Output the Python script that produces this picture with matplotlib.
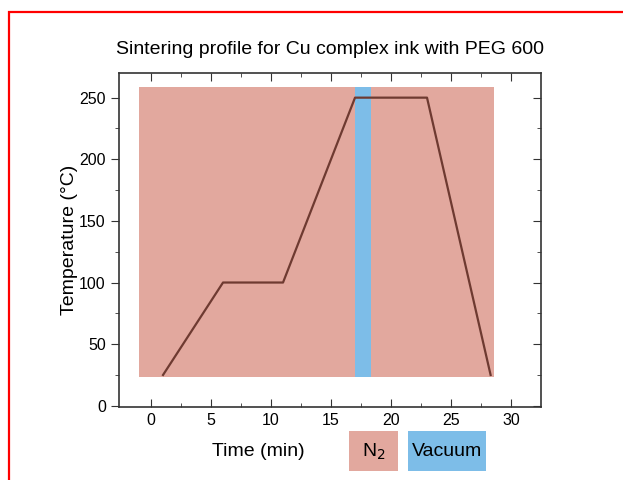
import matplotlib.pyplot as plt
from matplotlib.patches import Rectangle

plt.rcParams['font.family'] = ['Liberation Sans', 'DejaVu Sans']

# Sintering profile: time (min) vs temperature (°C)
time_min = [1, 6, 11, 17, 23, 28.3]
temp_c = [25, 100, 100, 250, 250, 25]

# Atmosphere regions (x start, x end, y bottom, y top)
n2_span = [-1, 28.6, 23, 259]
vacuum_span = [17.0, 18.3, 23, 259]

n2_color = '#e2a89e'
vac_color = '#7dbde8'
line_color = '#6e3a31'

W, H = 623, 480
fig = plt.figure(figsize=(W / 100, H / 100), dpi=100)
ax = fig.add_axes([119 / W, 1 - 407 / H, (541 - 119) / W, (407 - 73) / H])

# red frame around the figure
fig.patches.append(Rectangle((9 / W, -0.5), 1.2, 1.5 - 12 / H, transform=fig.transFigure,
                             fill=False, edgecolor='red', linewidth=1.6))

ax.add_patch(Rectangle((n2_span[0], n2_span[2]), n2_span[1] - n2_span[0],
                       n2_span[3] - n2_span[2], facecolor=n2_color, edgecolor='none', zorder=1))
ax.add_patch(Rectangle((vacuum_span[0], vacuum_span[2]), vacuum_span[1] - vacuum_span[0],
                       vacuum_span[3] - vacuum_span[2], facecolor=vac_color, edgecolor='none', zorder=2))
ax.plot(time_min, temp_c, color=line_color, linewidth=1.6, zorder=3)

ax.set_xlim(-2.67, 32.5)
ax.set_ylim(-1, 270)
ax.set_xticks([0, 5, 10, 15, 20, 25, 30])
ax.set_xticks([2.5, 7.5, 12.5, 17.5, 22.5, 27.5], minor=True)
ax.set_yticks([0, 50, 100, 150, 200, 250])
ax.set_yticks([25, 75, 125, 175, 225], minor=True)

for s in ax.spines.values():
    s.set_color('#333333')
    s.set_linewidth(1.2)

ax.tick_params(axis='x', which='both', direction='in', top=True, bottom=True,
               labelsize=11.5, pad=4, color='#333333')
ax.tick_params(axis='x', which='major', length=6)
ax.tick_params(axis='x', which='minor', length=3)
ax.tick_params(axis='y', which='both', direction='out', left=True, right=False,
               labelsize=11.5, color='#333333')
ax.tick_params(axis='y', which='major', length=6)
ax.tick_params(axis='y', which='minor', length=3)

# right side ticks point inward
ax2 = ax.secondary_yaxis('right')
ax2.set_yticks([0, 50, 100, 150, 200, 250])
ax2.set_yticks([25, 75, 125, 175, 225], minor=True)
ax2.tick_params(which='both', direction='in', labelright=False, color='#333333')
ax2.tick_params(which='major', length=6)
ax2.tick_params(which='minor', length=3)
ax2.spines['right'].set_visible(False)

ax.set_ylabel('Temperature (°C)', fontsize=14, labelpad=1)
ax.set_title('Sintering profile for Cu complex ink with PEG 600', fontsize=14, pad=14)

# atmosphere key under the axis
fig.text(305 / W, 1 - 452 / H, 'Time (min)', fontsize=14, ha='right', va='center')
fig.patches.append(Rectangle((349 / W, 1 - 471 / H), 49 / W, 40 / H,
                             transform=fig.transFigure, facecolor=n2_color, edgecolor='none'))
fig.patches.append(Rectangle((408 / W, 1 - 471 / H), 78 / W, 40 / H,
                             transform=fig.transFigure, facecolor=vac_color, edgecolor='none'))
fig.text(373.5 / W, 1 - 452 / H, 'N$_2$', fontsize=14, ha='center', va='center')
fig.text(447 / W, 1 - 452 / H, 'Vacuum', fontsize=14, ha='center', va='center')

fig.savefig('out.png', dpi=100)
